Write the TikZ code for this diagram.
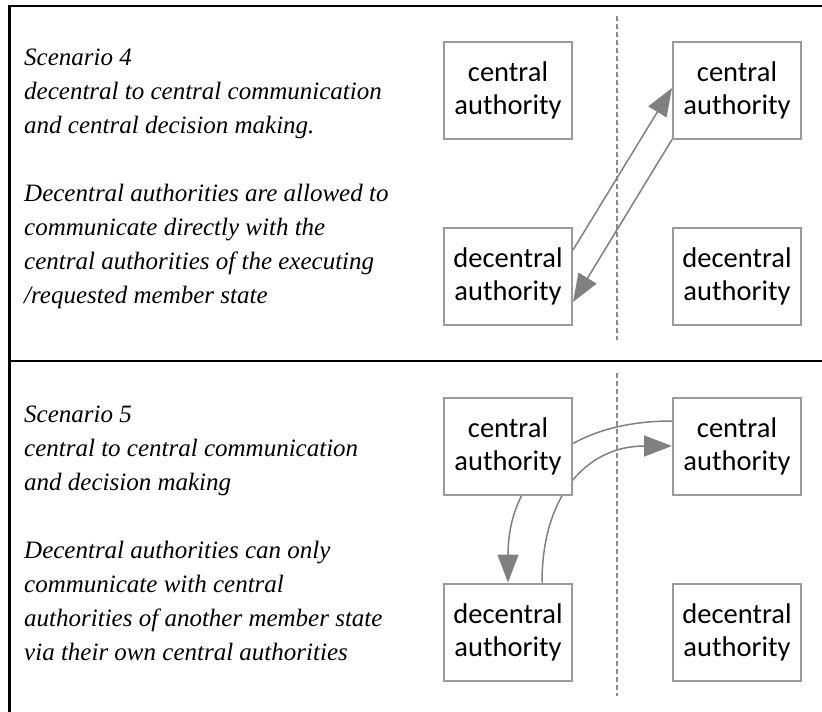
\documentclass[tikz,border=0pt]{standalone}
\usepackage{fontspec}
\setmainfont{Liberation Serif}
\newfontfamily\boxfont{Carlito}
\usetikzlibrary{arrows.meta}
\pgfdeclarelayer{bg}
\pgfsetlayers{bg,main}
\definecolor{boxgray}{HTML}{9A9A9A}
\definecolor{arrgray}{HTML}{808080}
\definecolor{dashgray}{HTML}{8C8C8C}
\tikzset{
  authbox/.style={draw=boxgray, line width=2pt, fill=white, minimum width=128pt, minimum height=97pt, inner sep=0pt, align=center, font=\boxfont\fontsize{28.5}{33}\selectfont},
  flow/.style={draw=arrgray, line width=1.5pt, -{Triangle[length=28pt,width=21pt]}, arrgray},
  sep/.style={draw=dashgray, line width=1.5pt, dash pattern=on 5pt off 3pt},
  frame/.style={draw=black, line width=2.5pt},
  desc/.style={anchor=north west, inner sep=0pt, align=left, font=\itshape\fontsize{25}{34}\selectfont}
}
\begin{document}
\begin{tikzpicture}[x=1pt,y=-1pt]
\useasboundingbox (0,0) rectangle (822,712);
% frame
\coordinate (ftl) at (9.5,6);
\coordinate (ftr) at (823,6);
\coordinate (fbl) at (9.5,713);
\coordinate (fml) at (9.5,361);
\coordinate (fmr) at (823,361);
\draw[frame] (ftr) -- (ftl) -- (fbl);
\draw[frame] (fml) -- (fmr);
% separators
\coordinate (s1a) at (617,16);
\coordinate (s1b) at (617,340);
\coordinate (s2a) at (617,373);
\coordinate (s2b) at (617,696);
\draw[sep] (s1a) -- (s1b);
\draw[sep] (s2a) -- (s2b);
% panel 1 text
\node[desc] (t1) at (24,49) {Scenario 4\\decentral to central communication\\and central decision making.\\[34pt]Decentral authorities are allowed to\\communicate directly with the\\central authorities of the executing\\/requested member state};
% panel 1 boxes
\node[authbox] (ca1) at (508,90) {central\\authority};
\node[authbox] (cb1) at (737,90) {central\\authority};
\node[authbox] (da1) at (508,276) {decentral\\authority};
\node[authbox] (db1) at (737,276) {decentral\\authority};
\draw[flow] ([yshift=26pt]da1.east) -- ([yshift=2pt]cb1.west);
\draw[flow] (cb1.south west) -- ([yshift=-26pt]da1.east);
% panel 2 text
\node[desc] (t2) at (24,406) {Scenario 5\\central to central communication\\and decision making\\[34pt]Decentral authorities can only\\communicate with central\\authorities of another member state\\via their own central authorities};
% panel 2 boxes
\node[authbox] (ca2) at (508,446) {central\\authority};
\node[authbox] (cb2) at (737,446) {central\\authority};
\node[authbox] (da2) at (508,632) {decentral\\authority};
\node[authbox] (db2) at (737,632) {decentral\\authority};
\begin{pgfonlayer}{bg}
\draw[flow] ([xshift=34pt]da2.north) .. controls +(0,-88) and +(-84.5,0) .. (cb2.west);
\draw[flow] ([yshift=25pt]cb2.west) .. controls +(-106,0) and +(0,-104) .. (da2.north);
\end{pgfonlayer}
\end{tikzpicture}
\end{document}
